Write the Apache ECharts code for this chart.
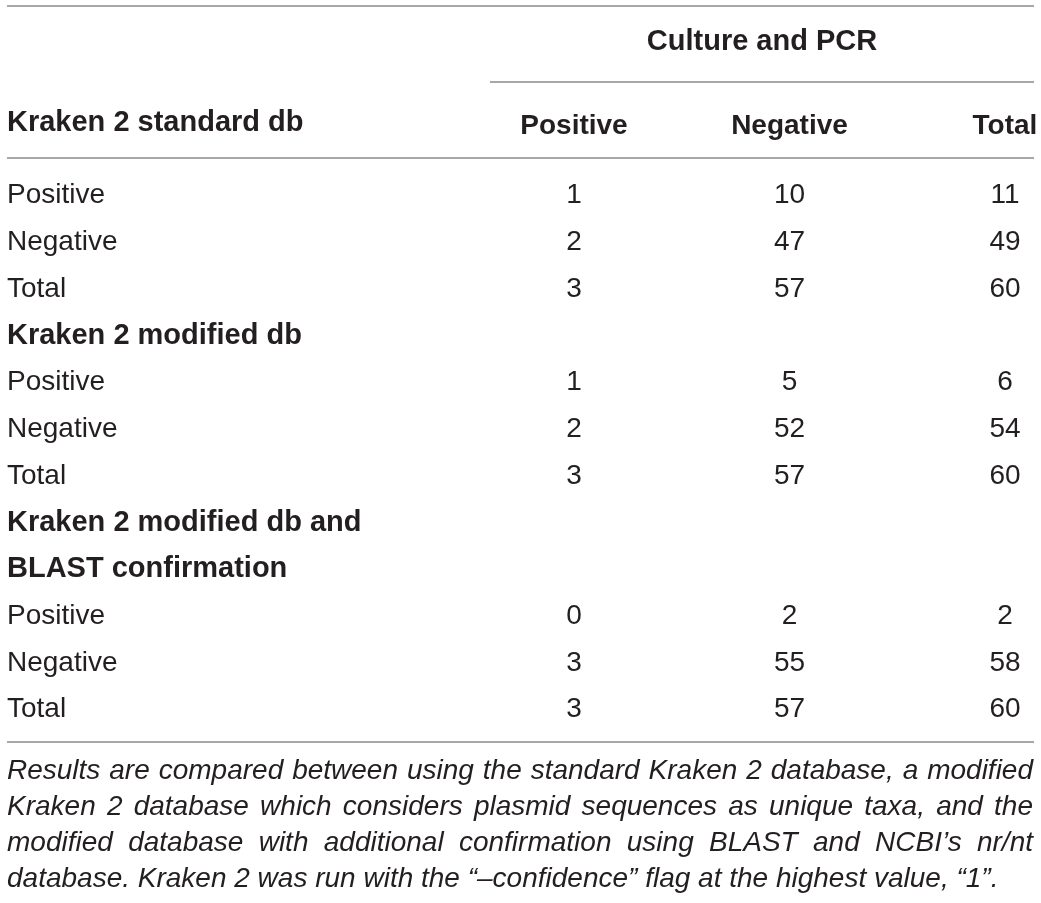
<!DOCTYPE html>
<html lang="en">
<head>
    <meta charset="UTF-8" />
    <title>Kraken 2 vs culture and PCR</title>
    <script src="https://cdn.jsdelivr.net/npm/echarts@6/dist/echarts.min.js"></script>
    <style>
        html, body { margin: 0; padding: 0; background: #fff; }
        #main { width: 1041px; height: 903px; }
    </style>
</head>
<body>
    <div id="main"></div>
    <script>
        // table content
        var spanner = "Culture and PCR";
        var stubHead = "Kraken 2 standard db";
        var columns = ["Positive", "Negative", "Total"];
        var rowNames = ["Positive", "Negative", "Total"];

        // rows: Positive / Negative / Total, columns: Positive / Negative / Total
        var standardDb = [[1, 10, 11], [2, 47, 49], [3, 57, 60]];
        var modifiedDb = [[1, 5, 6], [2, 52, 54], [3, 57, 60]];
        var blastDb = [[0, 2, 2], [3, 55, 58], [3, 57, 60]];

        var modifiedTitle = ["Kraken 2 modified db"];
        var blastTitle = ["Kraken 2 modified db and", "BLAST confirmation"];

        var caption = [
            "Results are compared between using the standard Kraken 2 database, a modified",
            "Kraken 2 database which considers plasmid sequences as unique taxa, and the",
            "modified database with additional confirmation using BLAST and NCBI\u2019s nr/nt",
            "database. Kraken 2 was run with the \u201c\u2013confidence\u201d flag at the highest value, \u201c1\u201d."
        ];

        var ink = "#231f20";
        var ruleColor = "#8a8a8a";
        var fontFamily = "'Liberation Sans', Arial, sans-serif";

        // build the row categories and the cells
        var sections = [
            { title: [], rows: standardDb },
            { title: modifiedTitle, rows: modifiedDb },
            { title: blastTitle, rows: blastDb },
        ];
        var categories = [];
        var boldRows = {};
        var cells = [];
        sections.forEach(function (sec) {
            sec.title.forEach(function (t) {
                boldRows[categories.length] = true;
                categories.push(t);
            });
            sec.rows.forEach(function (vals, r) {
                var rowIdx = categories.length;
                categories.push(rowNames[r]);
                vals.forEach(function (v, c) {
                    cells.push([c, rowIdx, v]);
                });
            });
        });

        // justified caption lines
        var ctx = document.createElement("canvas").getContext("2d");
        var capFont = "italic 28px " + fontFamily;
        ctx.font = capFont;
        var capLeft = 7, capRight = 1033, capTop = 771, capStep = 36;
        var captionEls = [];
        caption.forEach(function (line, li) {
            var words = line.split(" ");
            var widths = words.map(function (w) { return ctx.measureText(w).width; });
            var sum = widths.reduce(function (a, b) { return a + b; }, 0);
            var last = li === caption.length - 1;
            var gap = last ? ctx.measureText(" ").width : (capRight - capLeft - sum) / (words.length - 1);
            var x = capLeft;
            words.forEach(function (w, wi) {
                captionEls.push({
                    type: "text",
                    x: x,
                    y: capTop + li * capStep,
                    style: {
                        text: w,
                        font: capFont,
                        fill: ink,
                        textAlign: "left",
                        textVerticalAlign: "middle",
                    },
                });
                x += widths[wi] + gap;
            });
        });

        function rule(x1, x2, y) {
            return {
                type: "line",
                shape: { x1: x1, y1: y, x2: x2, y2: y },
                style: { stroke: ruleColor, lineWidth: 1.5 },
            };
        }

        var mCharts = echarts.init(document.getElementById("main"));
        var option = {
            animation: false,
            grid: { left: 574, right: 36, top: 172, bottom: 170 },
            xAxis: {
                type: "category",
                position: "top",
                data: columns,
                boundaryGap: false,
                axisLine: { show: false },
                axisTick: { show: false },
                splitLine: { show: false },
                axisLabel: {
                    interval: 0,
                    margin: 32,
                    color: ink,
                    fontFamily: fontFamily,
                    fontSize: 28,
                    fontWeight: "bold",
                },
            },
            yAxis: {
                type: "category",
                inverse: true,
                data: categories,
                axisLine: { show: false },
                axisTick: { show: false },
                splitLine: { show: false },
                axisLabel: {
                    interval: 0,
                    margin: 567,
                    align: "left",
                    formatter: function (v, i) {
                        return boldRows[i] ? "{b|" + v + "}" : "{n|" + v + "}";
                    },
                    rich: {
                        b: { color: ink, fontFamily: fontFamily, fontSize: 29, fontWeight: "bold" },
                        n: { color: ink, fontFamily: fontFamily, fontSize: 28 },
                    },
                },
            },
            series: [
                {
                    type: "scatter",
                    data: cells,
                    symbolSize: 0,
                    silent: true,
                    itemStyle: { opacity: 1 },
                    label: {
                        show: true,
                        position: "inside",
                        formatter: function (p) { return p.value[2]; },
                        color: ink,
                        opacity: 1,
                        textBorderWidth: 0,
                        fontFamily: fontFamily,
                        fontSize: 28,
                    },
                },
            ],
            graphic: [
                rule(7, 1034, 6),
                rule(490, 1034, 82),
                rule(7, 1034, 158),
                rule(7, 1034, 742),
                {
                    type: "text",
                    x: 762,
                    y: 42,
                    style: {
                        text: spanner,
                        font: "bold 29px " + fontFamily,
                        fill: ink,
                        textAlign: "center",
                        textVerticalAlign: "middle",
                    },
                },
                {
                    type: "text",
                    x: 7,
                    y: 123,
                    style: {
                        text: stubHead,
                        font: "bold 29px " + fontFamily,
                        fill: ink,
                        textAlign: "left",
                        textVerticalAlign: "middle",
                    },
                },
            ].concat(captionEls),
        };
        mCharts.setOption(option);
    </script>
</body>
</html>
